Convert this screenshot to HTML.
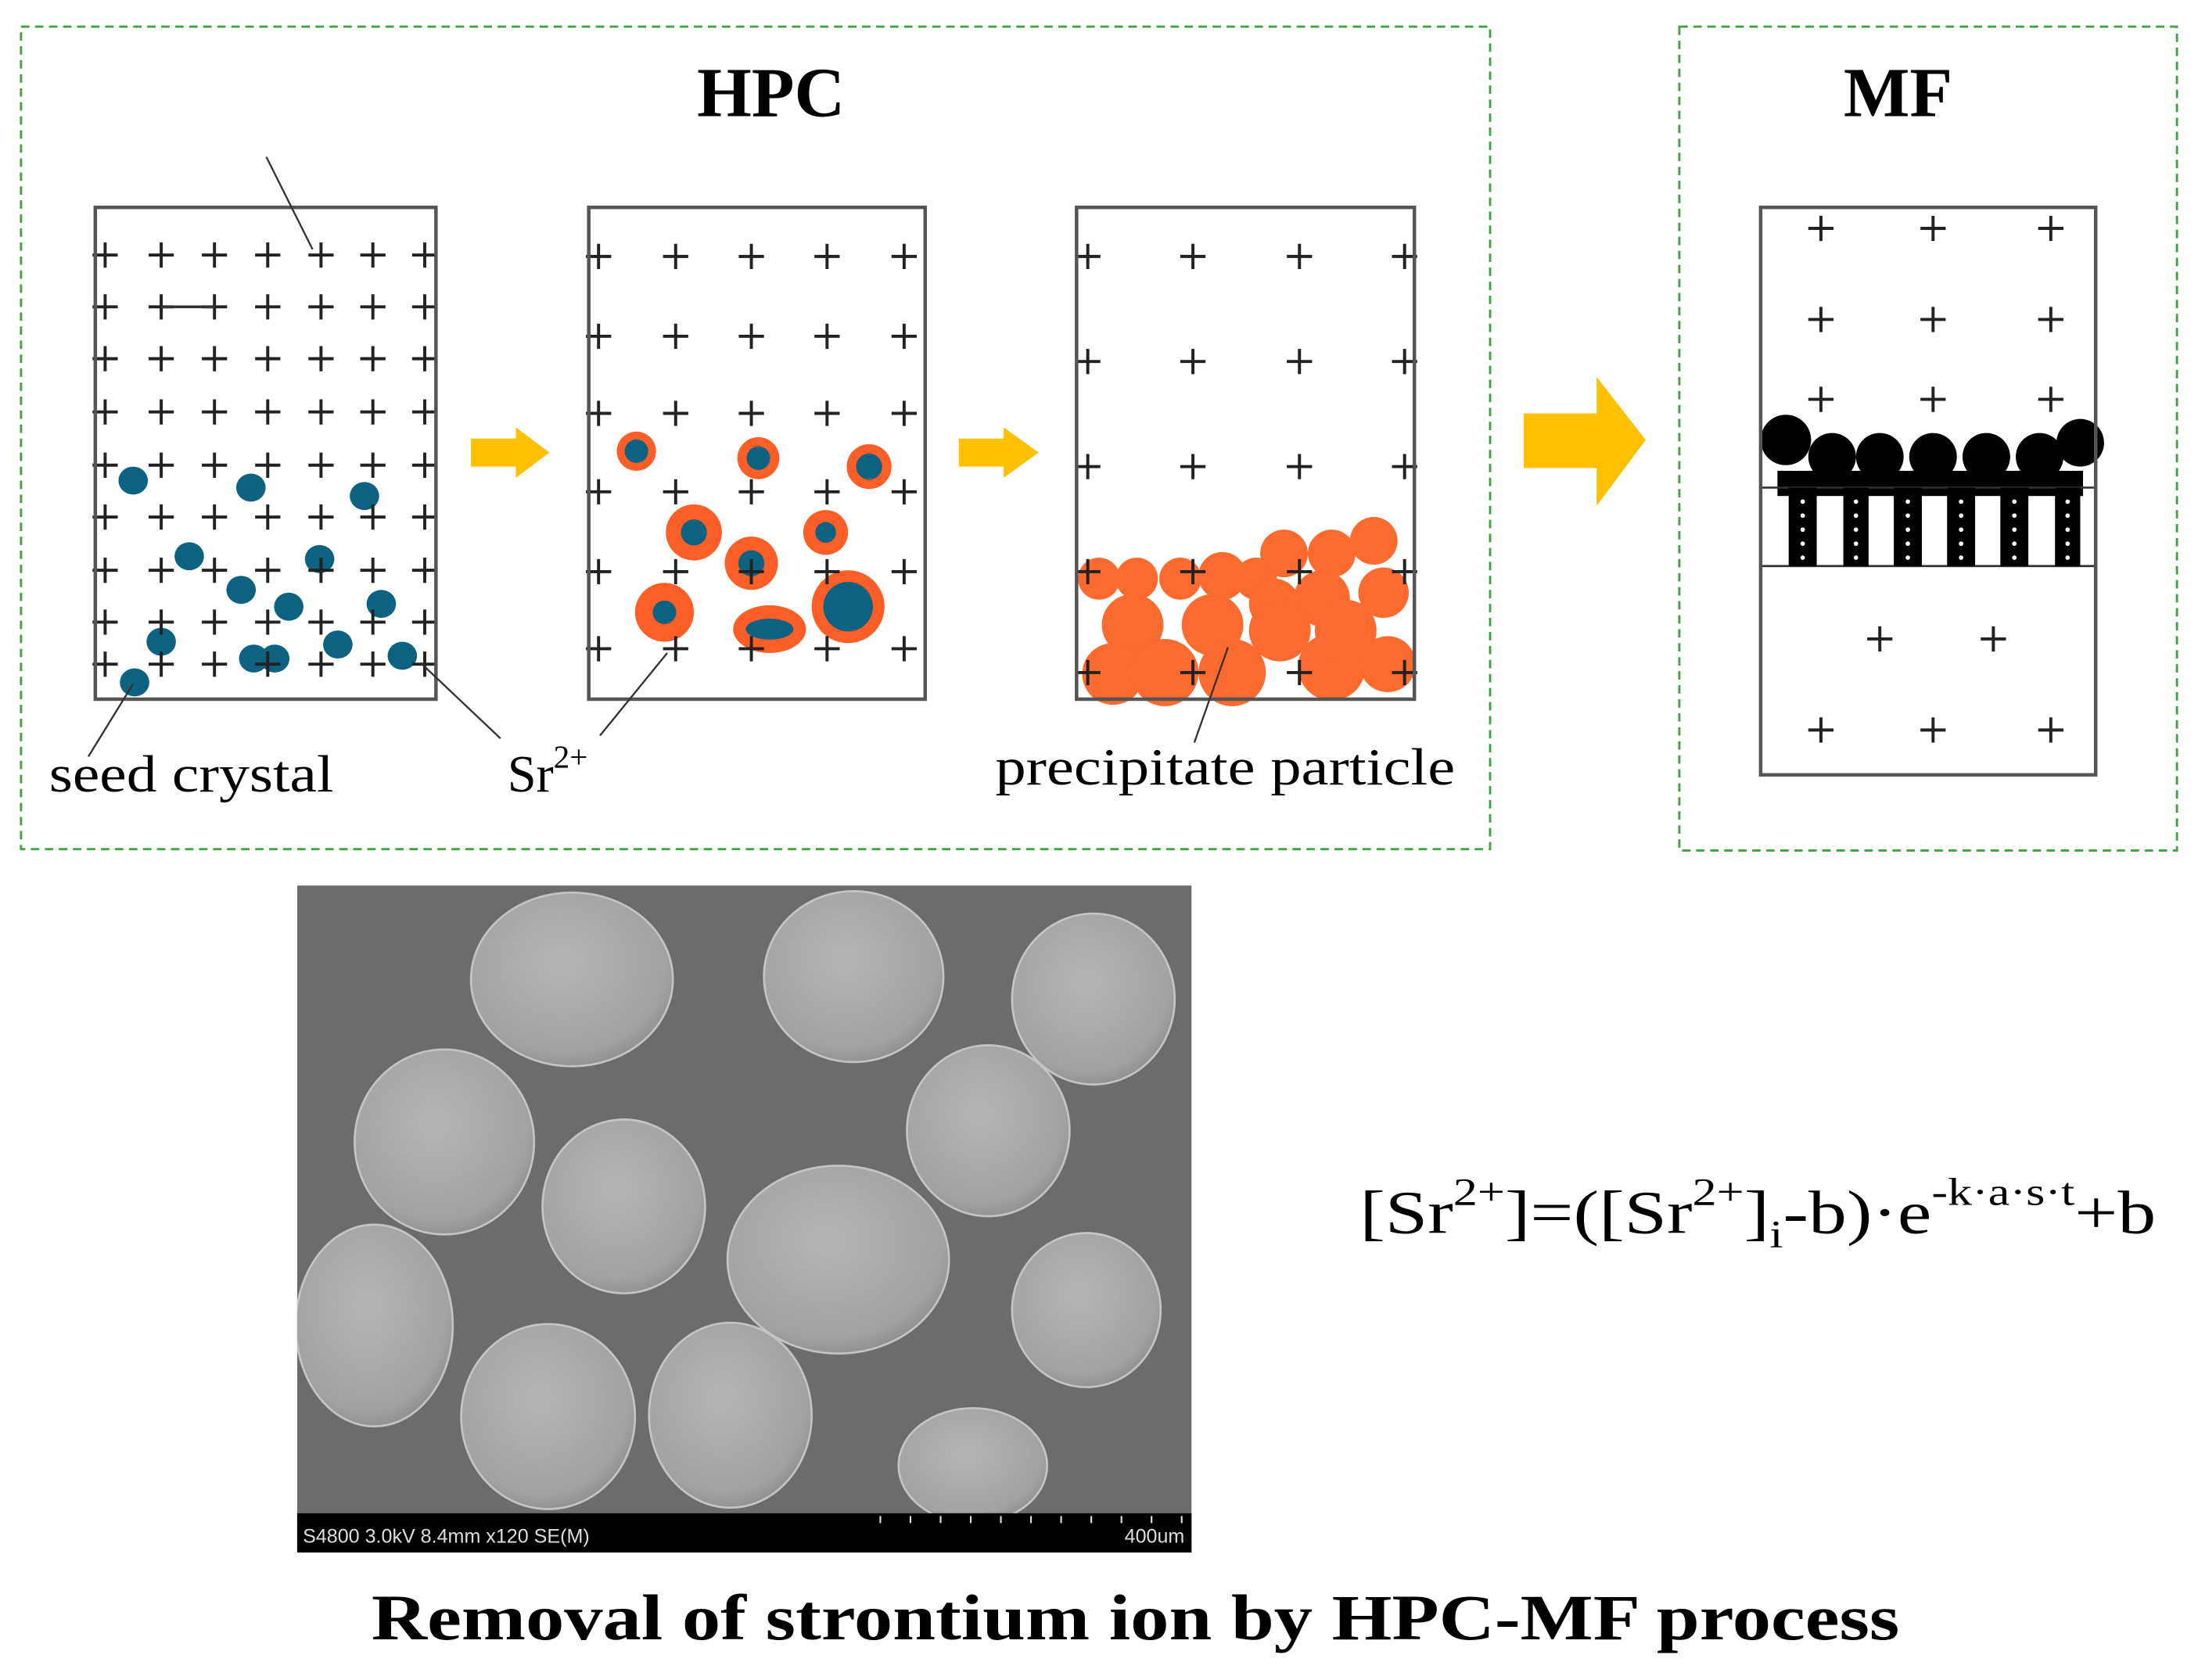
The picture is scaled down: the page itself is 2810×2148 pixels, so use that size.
<!DOCTYPE html>
<html><head><meta charset="utf-8"><style>
html,body{margin:0;padding:0;background:#fff;}
svg{display:block;}
text{font-family:"Liberation Serif",serif;}
</style></head><body>
<svg id="fig" width="2810" height="2148" viewBox="0 0 1568 1199" preserveAspectRatio="none" xmlns="http://www.w3.org/2000/svg">
<defs>
<radialGradient id="pg" cx="0.45" cy="0.4" r="0.65">
<stop offset="0" stop-color="#b4b4b4"/><stop offset="0.8" stop-color="#a2a2a2"/><stop offset="1" stop-color="#8a8a8a"/>
</radialGradient>
<clipPath id="semclip"><rect x="212" y="632" width="638" height="448"/></clipPath>
</defs>
<rect x="0" y="0" width="1568" height="1199" fill="#fff"/>
<rect x="15" y="19" width="1048" height="587" fill="none" stroke="#3fa33f" stroke-width="1.6" stroke-dasharray="6,4"/>
<rect x="1198" y="19" width="355" height="588" fill="none" stroke="#3fa33f" stroke-width="1.6" stroke-dasharray="6,4"/>
<text x="550" y="83" font-size="50" font-weight="bold" text-anchor="middle">HPC</text>
<text x="1354" y="83" font-size="50" font-weight="bold" text-anchor="middle">MF</text>

<g id="particles"></g>
<g id="pluses" stroke="#222" stroke-width="2.2"></g>

<rect x="68" y="148" width="243" height="351" fill="none" stroke="#555" stroke-width="2.5"/>
<rect x="420" y="148" width="240" height="351" fill="none" stroke="#555" stroke-width="2.5"/>
<rect x="768" y="148" width="241" height="351" fill="none" stroke="#555" stroke-width="2.5"/>
<line x1="115" y1="219" x2="153" y2="219" stroke="#333" stroke-width="2"/>

<g id="membrane"></g>
<rect x="1256" y="148" width="239" height="405" fill="none" stroke="#555" stroke-width="2.5"/>

<polygon points="336,313 368,313 368,305 392,323 368,341 368,333 336,333" fill="#ffc000"/>
<polygon points="684,313 716,313 716,305 741,323 716,341 716,333 684,333" fill="#ffc000"/>
<polygon points="1087,295 1139,295 1139,269 1174,314 1139,361 1139,334 1087,334" fill="#ffc000"/>

<g stroke="#333" stroke-width="1.3" fill="none">
<line x1="190" y1="112" x2="223" y2="178"/>
<line x1="95" y1="488" x2="63" y2="540"/>
<line x1="300" y1="473" x2="357" y2="527"/>
<line x1="476" y1="466" x2="428" y2="525"/>
<line x1="876" y1="462" x2="852" y2="530"/>
</g>
<text x="35" y="565" font-size="37" textLength="203" lengthAdjust="spacingAndGlyphs">seed crystal</text>
<text x="362" y="565" font-size="37">Sr<tspan font-size="23" dy="-17">2+</tspan></text>
<text x="710" y="560" font-size="37" textLength="328" lengthAdjust="spacingAndGlyphs">precipitate particle</text>

<g>
<rect x="212" y="632" width="638" height="476" fill="#6c6c6c"/>
<g id="sem" clip-path="url(#semclip)"></g>
<rect x="212" y="1080" width="638" height="28" fill="#000"/>
<text x="216" y="1101" font-size="14" fill="#ddd" style="font-family:'Liberation Sans',sans-serif">S4800 3.0kV 8.4mm x120 SE(M)</text>
<text x="845" y="1101" font-size="14" fill="#ddd" text-anchor="end" style="font-family:'Liberation Sans',sans-serif">400um</text>
<g id="scaleticks" stroke="#ddd" stroke-width="1.2"></g>
</g>

<text x="970" y="880" font-size="44" textLength="568" lengthAdjust="spacingAndGlyphs">[Sr<tspan font-size="28" dy="-20">2+</tspan><tspan dy="20">]=([Sr</tspan><tspan font-size="28" dy="-20">2+</tspan><tspan dy="20">]</tspan><tspan font-size="28" dy="10">i</tspan><tspan dy="-10">-b)·e</tspan><tspan font-size="28" dy="-20">-k·a·s·t</tspan><tspan dy="20">+b</tspan></text>

<text x="810" y="1170" font-size="46" font-weight="bold" text-anchor="middle" textLength="1090" lengthAdjust="spacingAndGlyphs">Removal of strontium ion by HPC-MF process</text>
</svg>
<script>
const NS='http://www.w3.org/2000/svg';
const stage1Cols=[75,115,153,191,229,266,303];
const stage1Rows=[182,219,256,294,332,369,407,444,474];
const stage2Cols=[427,482,536,590,645];
const stage2Rows=[183,240,295,351,408,463];
const stage3Cols=[776,851,927,1002];
const stage3Rows=[183,258,333,408,480];
const mfCols=[1299,1379,1463];
const mfRows=[163,228,285,521];
const mfLowCols=[1341,1422];
const mfLowRow=456;
const seedDots=[[95,343],[179,348],[260,354],[135,397],[172,421],[206,433],[228,399],[272,431],[115,458],[181,470],[196,470],[241,460],[287,468],[96,487]];
const halos=[[454,322,8.4,8.4,14,14],[541,327,8.4,8.4,15,15],[620,333,9.3,9.3,16,16],[495,380,9.3,9.3,20,20],[536,402,9.3,9.3,19,19],[589,380,7.4,7.4,16,16],[474,437,8.4,8.4,21,21],[549,449,17,7.5,26,17],[605,433,17.7,17.7,26,26]];
const blobs=[[784,413,15],[811,413,15],[842,413,15],[872,411,17],[896,413,15],[916,395,17],[950,395,17],[980,386,17],[987,423,18],[943,427,20],[909,431,18],[865,446,22],[808,446,22],[794,481,22],[831,480,24],[879,480,24],[950,476,24],[990,474,20],[913,450,22],[960,450,22]];
const semParticles=[[408,699,72,62],[609,697,64,61],[780,713,58,61],[317,815,64,66],[445,861,58,62],[705,807,58,61],[598,899,79,67],[267,946,56,72],[775,935,53,55],[391,1011,62,66],[521,1010,58,66],[694,1046,53,41]];

function el(tag,attrs,parent){const e=document.createElementNS(NS,tag);for(const k in attrs)e.setAttribute(k,attrs[k]);parent.appendChild(e);return e;}
const P=document.getElementById('pluses'),G=document.getElementById('particles');
function plus(x,y,s){el('line',{x1:x-s,y1:y,x2:x+s,y2:y},P);el('line',{x1:x,y1:y-s,x2:x,y2:y+s},P);}
function grid(cols,rows,s){rows.forEach(y=>cols.forEach(x=>plus(x,y,s)));}
grid(stage1Cols,stage1Rows,9);grid(stage2Cols,stage2Rows,9);grid(stage3Cols,stage3Rows,9);grid(mfCols,mfRows,9);
mfLowCols.forEach(x=>plus(x,mfLowRow,9));
halos.forEach(h=>{const o=el('ellipse',{cx:h[0],cy:h[1],rx:h[4],ry:h[5],fill:'#fb5f27'},G);


el('ellipse',{cx:h[0],cy:h[1],rx:h[2],ry:h[3],fill:'#0d6281'},G);});
blobs.forEach(b=>{const c=el('circle',{cx:b[0],cy:b[1],r:b[2],fill:'#fb6a2e'},G);

});
seedDots.forEach(d=>{const c=el('ellipse',{cx:d[0],cy:d[1],rx:10.5,ry:10,fill:'#0d6281'},G);

});
const M=document.getElementById('membrane');
const pores=[[1276,1296],[1315,1333],[1351,1371],[1389,1409],[1427,1447],[1466,1484]];
el('rect',{x:1268,y:336,width:218,height:18,fill:'#000'},M);
el('line',{x1:1256,y1:348,x2:1495,y2:348,stroke:'#333','stroke-width':1.5},M);
el('line',{x1:1256,y1:404,x2:1495,y2:404,stroke:'#333','stroke-width':1.5},M);
pores.forEach(p=>{el('rect',{x:p[0],y:348,width:p[1]-p[0],height:56,fill:'#000'},M);
for(let k=0;k<5;k++){el('circle',{cx:(p[0]+p[1])/2,cy:358+k*10,r:1.6,fill:'#fff'},M);}});
[[1274,314,18],[1307,326,17],[1341,326,17],[1379,326,17],[1417,326,17],[1455,326,17],[1484,316,17]].forEach(b=>{
const c=el('circle',{cx:b[0],cy:b[1],r:b[2],fill:'#000'},M);

});
const S=document.getElementById('sem');
semParticles.forEach(p=>{const e=el('ellipse',{cx:p[0],cy:p[1],rx:p[2],ry:p[3],fill:'url(#pg)',stroke:'#c4c4c4','stroke-width':1.5},S);

});
const T=document.getElementById('scaleticks');
for(let i=0;i<11;i++){const x=628+i*21.5;el('line',{x1:x,y1:1082,x2:x,y2:1087},T);}
</script>
</body></html>
